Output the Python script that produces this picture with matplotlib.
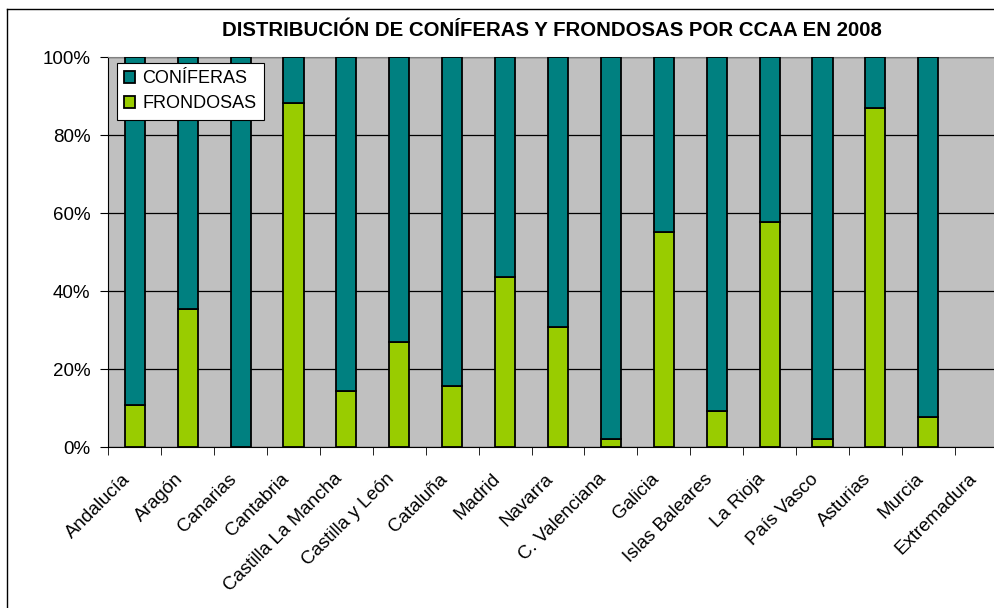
import matplotlib.pyplot as plt
import matplotlib.transforms as mtransforms
import numpy as np
from matplotlib.lines import Line2D

plt.rcParams['font.family'] = ['Liberation Sans', 'DejaVu Sans']

regiones = ['Andalucía', 'Aragón', 'Canarias', 'Cantabria', 'Castilla La Mancha',
            'Castilla y León', 'Cataluña', 'Madrid', 'Navarra', 'C. Valenciana',
            'Galicia', 'Islas Baleares', 'La Rioja', 'País Vasco', 'Asturias',
            'Murcia', 'Extremadura']
# porcentaje de frondosas (el resto hasta 100 son coníferas); Extremadura sin datos
frondosas = [10.8, 35.4, 0.0, 88.2, 14.4, 27.1, 15.8, 43.6, 30.8, 2.1,
             55.3, 9.3, 57.9, 2.1, 87.1, 7.7, np.nan]
coniferas = [89.2, 64.6, 100.0, 11.8, 85.6, 72.9, 84.2, 56.4, 69.2, 97.9,
             44.7, 90.7, 42.1, 97.9, 12.9, 92.3, np.nan]

verde = '#99CC00'
teal = '#008080'

fig = plt.figure(figsize=(9.94, 6.08), dpi=100)
# el área de trazado sigue más allá del borde derecho de la imagen
ax = fig.add_axes([0.109, 0.2643, 0.9047, 0.6414])
ax.set_facecolor('#C0C0C0')

x = np.arange(len(regiones))
ax.bar(x, frondosas, width=0.38, color=verde, edgecolor='black', lw=1.3,
       label='FRONDOSAS', zorder=3)
ax.bar(x, coniferas, width=0.38, bottom=frondosas, color=teal, edgecolor='black',
       lw=1.3, label='CONÍFERAS', zorder=3)

ax.set_xlim(-0.5, len(regiones) - 0.5)
ax.set_ylim(0, 100)
ax.set_yticks(np.arange(0, 101, 20))
ax.set_yticklabels([f'{v}%' for v in range(0, 101, 20)], fontsize=13.5)
ax.yaxis.grid(True, color='black', lw=0.9, zorder=1)
ax.set_axisbelow(True)
ax.tick_params(axis='y', length=6, color='black', pad=7)

ax.set_xticks(x)
ax.set_xticklabels(regiones, rotation=45, ha='right', va='center', fontsize=13.5,
                   rotation_mode='anchor')
ax.tick_params(axis='x', length=0, pad=21)
shift = mtransforms.ScaledTranslation(-0.07, 0, fig.dpi_scale_trans)
for lab in ax.get_xticklabels():
    lab.set_transform(lab.get_transform() + shift)
ax.set_xticks(np.arange(-0.5, len(regiones), 1), minor=True)
ax.tick_params(axis='x', which='minor', length=6, color='black')

ax.spines['top'].set_color('#808080')
ax.spines['right'].set_color('#808080')
ax.spines['left'].set_color('black')
ax.spines['bottom'].set_color('black')

handles, labels = ax.get_legend_handles_labels()
leg = ax.legend(handles[::-1], labels[::-1], loc='upper left',
                bbox_to_anchor=(0.0097, 0.9854), fontsize=13, fancybox=False,
                edgecolor='black', framealpha=1, handlelength=0.6,
                handleheight=0.6, handletextpad=0.4, borderpad=0.4,
                labelspacing=0.45, borderaxespad=0)
leg.get_frame().set_linewidth(0.8)

fig.text(0.555, 0.950, 'DISTRIBUCIÓN DE CONÍFERAS Y FRONDOSAS POR CCAA EN 2008',
         ha='center', va='center', fontsize=14.7, fontweight='bold')

# borde del área del gráfico (recortado a la derecha y abajo)
x0 = 7 / 994
y0 = 1 - 9 / 608
fig.add_artist(Line2D([x0, x0], [0, y0], transform=fig.transFigure, color='black', lw=1))
fig.add_artist(Line2D([x0, 1], [y0, y0], transform=fig.transFigure, color='black', lw=1))

fig.savefig('out.png', dpi=100)
